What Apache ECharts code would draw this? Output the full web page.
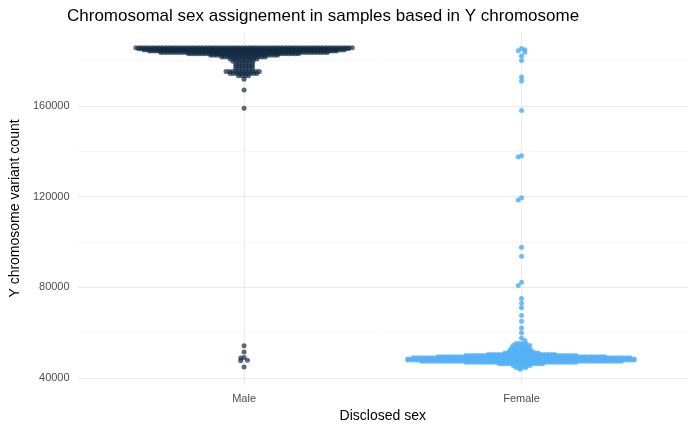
<!DOCTYPE html>
<html>
<head>
<meta charset="utf-8">
<script src="https://cdn.jsdelivr.net/npm/echarts@6/dist/echarts.min.js"></script>
<style>html,body{margin:0;padding:0;background:#fff}#main{width:700px;height:432px}</style>
</head>
<body>
<div id="main"></div>
<script>
var categories = ['Male', 'Female'];
// swarm body: [variant count, half-width of the swarm in category units]
var maleRows = [[185700, 0.39], [185200, 0.38], [184700, 0.36], [184200, 0.34], [183600, 0.3], [183000, 0.2], [182400, 0.12],
  [181600, 0.08], [180700, 0.05], [179700, 0.04], [178600, 0.03], [177500, 0.03], [176500, 0.03], [175200, 0.065],
  [174300, 0.05], [173300, 0.02]];
var femaleRows = [[43800, 0.005], [44600, 0.02], [45500, 0.03], [46300, 0.08], [46900, 0.2], [47400, 0.36], [47900, 0.41],
  [48400, 0.41], [48900, 0.39], [49400, 0.3], [49900, 0.2], [50400, 0.12], [51000, 0.06], [51700, 0.045], [52400, 0.04],
  [53300, 0.035], [54300, 0.03], [55200, 0.02]];
// isolated samples
var maleSingles = [171800, 167000, 159000, 54200, 51500, 49000, 48800, 47800, 47600, 44800];
var femaleSingles = [185300, 184800, 184300, 183700, 182000, 180000, 172800, 171000, 158000, 138000, 137500, 119500,
  118500, 97700, 93700, 82200, 80800, 75000, 73000, 71000, 67500, 65000, 62000, 60000, 57600, 56500];
var majorTicks = [40000, 80000, 120000, 160000];
var minorTicks = [60000, 100000, 140000, 180000];

function swarm(center, rows, singles) {
  var pts = [];
  rows.forEach(function (r) {
    var step = 0.012;
    for (var o = -r[1]; o <= r[1] + 1e-9; o += step) pts.push([center + o, r[0]]);
  });
  singles.forEach(function (v, i) {
    var prev = singles[i - 1];
    var off = (prev !== undefined && Math.abs(prev - v) < 1500) ? ((i % 2) ? 0.012 : -0.012) : 0;
    pts.push([center + off, v]);
  });
  return pts;
}

var gridLines = [];
majorTicks.forEach(function (v) { gridLines.push({ yAxis: v, lineStyle: { color: '#ebebeb', width: 1, type: 'solid' } }); });
minorTicks.forEach(function (v) { gridLines.push({ yAxis: v, lineStyle: { color: '#f3f3f3', width: 0.7, type: 'solid' } }); });
gridLines.push({ xAxis: 1, lineStyle: { color: '#ebebeb', width: 1, type: 'solid' } });
gridLines.push({ xAxis: 2, lineStyle: { color: '#ebebeb', width: 1, type: 'solid' } });

var myChart = echarts.init(document.getElementById('main'));
var option = {
  animation: false,
  title: { text: 'Chromosomal sex assignement in samples based in Y chromosome', left: 62, top: 3,
    textStyle: { fontFamily: 'Liberation Sans', fontWeight: 'normal', fontSize: 17, color: '#000' } },
  grid: { left: 68, right: 12, top: 32, bottom: 47 },
  xAxis: {
    type: 'value', min: 0.4, max: 2.6,
    name: 'Disclosed sex', nameLocation: 'middle', nameGap: 22,
    nameTextStyle: { fontFamily: 'Liberation Sans', fontSize: 14, color: '#000' },
    axisLine: { show: false }, axisTick: { show: false }, splitLine: { show: false },
    axisLabel: { customValues: [1, 2], color: '#4d4d4d', fontSize: 11, fontFamily: 'Liberation Sans',
      formatter: function (v) { return categories[Math.round(v) - 1] || ''; } }
  },
  yAxis: {
    type: 'value', min: 36900, max: 192600,
    name: 'Y chromosome variant count', nameLocation: 'middle', nameGap: 52,
    nameTextStyle: { fontFamily: 'Liberation Sans', fontSize: 14, color: '#000' },
    axisLine: { show: false }, axisTick: { show: false }, splitLine: { show: false },
    axisLabel: { customValues: majorTicks, color: '#4d4d4d', fontSize: 11, fontFamily: 'Liberation Sans',
      formatter: function (v) { return String(v); } }
  },
  series: [
    { type: 'scatter', data: [], silent: true, z: 0, zlevel: 0,
      markLine: { silent: true, symbol: 'none', z: 0, label: { show: false }, data: gridLines } },
    { name: 'Male', type: 'scatter', symbolSize: 5, z: 5, data: swarm(1, maleRows, maleSingles),
      itemStyle: { color: '#132B43', opacity: 0.7, borderWidth: 0 } },
    { name: 'Female', type: 'scatter', symbolSize: 5, z: 5, data: swarm(2, femaleRows, femaleSingles),
      itemStyle: { color: '#56B1F7', opacity: 0.85, borderWidth: 0 } }
  ]
};
myChart.setOption(option);
</script>
</body>
</html>
